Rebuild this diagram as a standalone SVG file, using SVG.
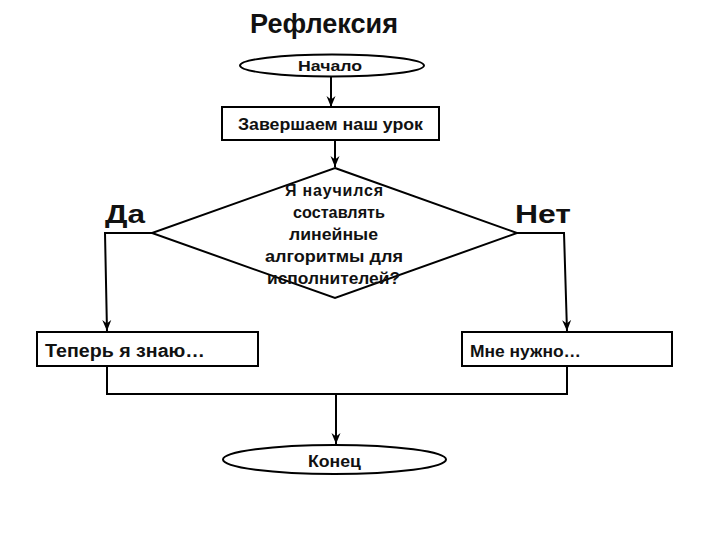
<svg xmlns="http://www.w3.org/2000/svg" width="720" height="540" viewBox="0 0 720 540">
<defs>
<marker id="arr" markerWidth="12" markerHeight="12" viewBox="0 0 12 12" refX="11" refY="6" orient="auto" markerUnits="userSpaceOnUse">
<path d="M0,1.5 L11,6 L0,10.5 L3.5,6 Z" fill="#000"/>
</marker>
</defs>
<style>
.shape{fill:#fff;stroke:#000;stroke-width:2}
.line{fill:none;stroke:#000;stroke-width:2}
text{font-family:"Liberation Sans",Arial,sans-serif;font-weight:bold;fill:#111}
.c{text-anchor:middle}
</style>
<rect width="720" height="540" fill="#fff"/>
<text x="250" y="33" font-size="27" textLength="148" lengthAdjust="spacingAndGlyphs">Рефлексия</text>
<g id="connectors">
<line class="line" x1="331" y1="76" x2="331" y2="107" marker-end="url(#arr)"/>
<line class="line" x1="335" y1="140" x2="335" y2="167" marker-end="url(#arr)"/>
<polyline class="line" points="152,233 105,233 107,331" marker-end="url(#arr)"/>
<polyline class="line" points="517,233 564,233 567,331" marker-end="url(#arr)"/>
<polyline class="line" points="107,366 107,394 567,394 567,366"/>
<line class="line" x1="336" y1="394" x2="336" y2="444" marker-end="url(#arr)"/>
</g>
<g id="start">
<ellipse class="shape" cx="332" cy="65.5" rx="92" ry="11"/>
<text x="298" y="71" font-size="15" textLength="64" lengthAdjust="spacingAndGlyphs">Начало</text>
</g>
<g id="finish-lesson">
<rect class="shape" x="222" y="107" width="217" height="33"/>
<text x="238" y="130" font-size="17" textLength="185" lengthAdjust="spacingAndGlyphs">Завершаем наш урок</text>
</g>
<g id="question">
<polygon class="shape" points="335,168 517,233 335,298 152,233"/>
<text font-size="16" lengthAdjust="spacingAndGlyphs"><tspan x="285" y="196" textLength="98">Я научился</tspan></text>
<text font-size="16" x="293" y="218" textLength="92" lengthAdjust="spacingAndGlyphs">составлять</text>
<text font-size="16" x="289" y="240" textLength="89" lengthAdjust="spacingAndGlyphs">линейные</text>
<text font-size="16" x="265" y="262" textLength="138" lengthAdjust="spacingAndGlyphs">алгоритмы для</text>
<text font-size="16" x="267" y="284" textLength="133" lengthAdjust="spacingAndGlyphs">исполнителей?</text>
</g>
<g id="yes-label"><text x="105" y="223" font-size="26" textLength="40" lengthAdjust="spacingAndGlyphs">Да</text></g>
<g id="no-label"><text x="515" y="223" font-size="26" textLength="56" lengthAdjust="spacingAndGlyphs">Нет</text></g>
<g id="know">
<rect class="shape" x="37" y="332" width="221" height="34"/>
<text x="45" y="357" font-size="18" textLength="160" lengthAdjust="spacingAndGlyphs">Теперь я знаю…</text>
</g>
<g id="need">
<rect class="shape" x="462" y="332" width="210" height="34"/>
<text x="470" y="357" font-size="17" textLength="111" lengthAdjust="spacingAndGlyphs">Мне нужно…</text>
</g>
<g id="end">
<ellipse class="shape" cx="334.5" cy="459.5" rx="111.5" ry="14.5"/>
<text x="308" y="467" font-size="17" textLength="53" lengthAdjust="spacingAndGlyphs">Конец</text>
</g>
</svg>
